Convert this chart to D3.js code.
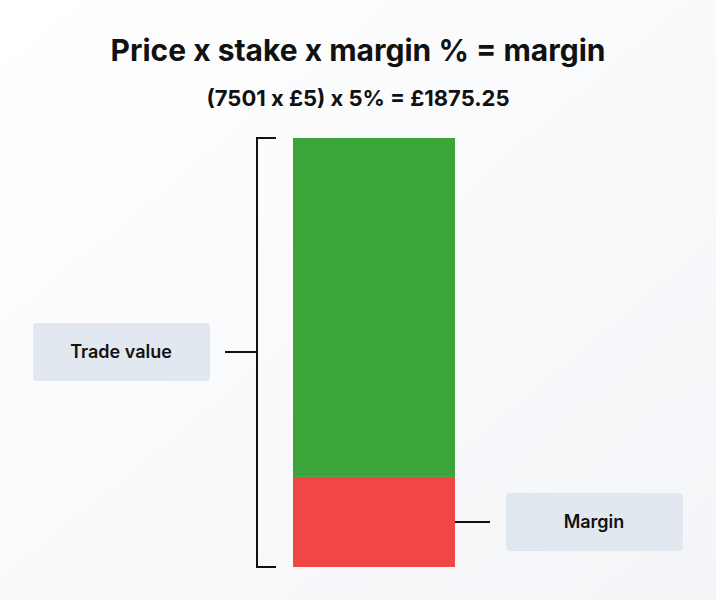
<!DOCTYPE html>
<html lang="en">
<head>
<meta charset="UTF-8">
<script src="https://cdnjs.cloudflare.com/ajax/libs/d3/7.8.5/d3.min.js"></script>
<style>
  body { margin: 0; background: #fafbfc; font-family: Inter, "Noto Sans", sans-serif; }
</style>
</head>
<body>
<svg id="chart" width="716" height="600"></svg>
<script>
// illustrative proportions as drawn (share of the bar)
const segments = ["Margin", "Rest"];
const segmentValues = [21, 79];
const segmentColors = ["#f04646", "#3ba53a"];
const titleText = "Price x stake x margin % = margin";
const subtitleText = "(7501 x £5) x 5% = £1875.25";

const svg = d3.select("#chart");
const defs = svg.append("defs");
const grad = defs.append("linearGradient").attr("id", "bg").attr("x1", 0).attr("y1", 0).attr("x2", 1).attr("y2", 1);
grad.append("stop").attr("offset", "0%").attr("stop-color", "#ffffff");
grad.append("stop").attr("offset", "100%").attr("stop-color", "#f3f5f8");
svg.append("rect").attr("width", 716).attr("height", 600).attr("fill", "url(#bg)");

svg.append("text").attr("x", 358).attr("y", 61).attr("text-anchor", "middle")
  .attr("font-size", 30).attr("font-weight", 700).attr("fill", "#111").text(titleText);
svg.append("text").attr("x", 358).attr("y", 106).attr("text-anchor", "middle")
  .attr("font-size", 22).attr("font-weight", 700).attr("fill", "#111").text(subtitleText);

const total = d3.sum(segmentValues);
const y = d3.scaleLinear().domain([0, total]).range([567, 138]);
const x0 = 293, x1 = 455;

let acc = 0;
const stacked = segmentValues.map((v, i) => { const s = { name: segments[i], lo: acc, hi: acc + v, color: segmentColors[i] }; acc += v; return s; });
svg.selectAll("rect.seg").data(stacked).enter().append("rect")
  .attr("x", x0).attr("width", x1 - x0)
  .attr("y", d => y(d.hi)).attr("height", d => y(d.lo) - y(d.hi))
  .attr("fill", d => d.color);

// bracket
const line = (a, b, c, d) => svg.append("line").attr("x1", a).attr("y1", b).attr("x2", c).attr("y2", d)
  .attr("stroke", "#111").attr("stroke-width", 2);
line(257, y(total), 257, y(0));
line(256, y(total), 276, y(total));
line(256, y(0), 276, y(0));
line(225, 352, 257, 352);

const m = stacked[0];
const my = (y(m.lo) + y(m.hi)) / 2;
line(x1, my, 490, my);

function label(x, yc, text) {
  svg.append("rect").attr("x", x).attr("y", yc - 29).attr("width", 177).attr("height", 58)
    .attr("rx", 4).attr("fill", "#e2e8f0");
  svg.append("text").attr("x", x + 88).attr("y", yc + 6).attr("text-anchor", "middle")
    .attr("font-size", 18).attr("font-weight", 600).attr("fill", "#111").text(text);
}
label(33, 352, "Trade value");
label(506, my, "Margin");
</script>
</body>
</html>
